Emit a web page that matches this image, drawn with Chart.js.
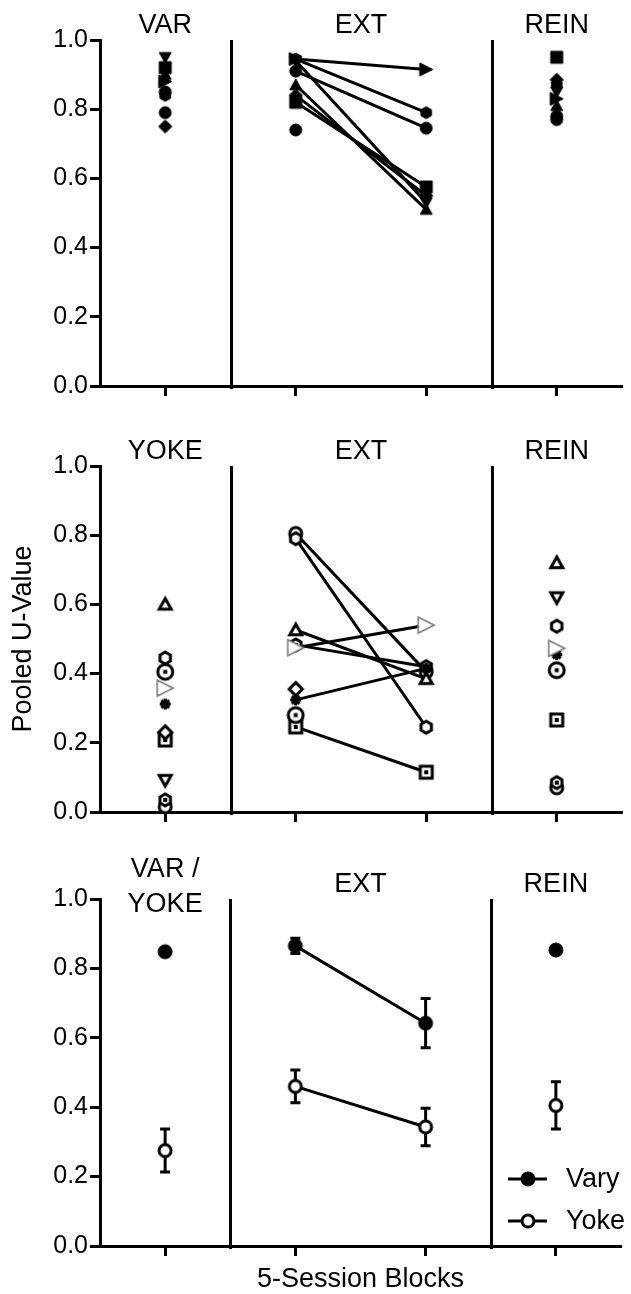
<!DOCTYPE html>
<html>
<head>
<meta charset="utf-8">
<script src="https://cdn.jsdelivr.net/npm/chart.js@4.4.0/dist/chart.umd.min.js"></script>
<style>
  html, body { margin: 0; padding: 0; background: #fff; }
  #wrap { position: relative; width: 631px; height: 1294px; }
  canvas { position: absolute; left: 0; }
</style>
</head>
<body>
<div id="wrap">
  <canvas id="c1" width="631" height="426" style="top:0px"></canvas>
  <canvas id="c2" width="631" height="426" style="top:426px"></canvas>
  <canvas id="c3" width="631" height="442" style="top:852px"></canvas>
</div>
<script>
// blocks on the x axis: baseline, EXT block 1, EXT block 2, REIN
const blockX = [1, 2, 3, 4];
const yTicks = [0, 0.2, 0.4, 0.6, 0.8, 1.0];
const panel1Titles = ['VAR', 'EXT', 'REIN'];
const panel2Titles = ['YOKE', 'EXT', 'REIN'];
const panel3Titles = ['VAR /\nYOKE', 'EXT', 'REIN'];
const legendNames = ['Vary', 'Yoke'];
const yAxisTitle = 'Pooled U-Value';
const xAxisTitle = '5-Session Blocks';

// top panel: individual Vary subjects
const varyShapes = ['triRight', 'hexagon', 'circle', 'triUp', 'square', 'diamond', 'triDown', 'circle'];
const varyVAR  = [0.88, 0.84, 0.79, 0.90, 0.92, 0.75, 0.95, 0.85];
const varyEXT1 = [0.945, 0.945, 0.91, 0.87, 0.82, 0.84, 0.94, 0.74];
const varyEXT2 = [0.915, 0.79, 0.745, 0.51, 0.575, 0.55, 0.53, null];
const varyREIN = [0.83, 0.87, 0.77, 0.81, 0.95, 0.885, 0.85, 0.78];

// middle panel: individual Yoke subjects
const yokeShapes = ['triUp', 'hexagon', 'circleDotBig', 'triRightGray', 'star', 'diamond', 'squareDot', 'triDown', 'hexagonDot', 'circle'];
const yokeYOKE = [0.60, 0.445, 0.405, 0.358, 0.312, 0.23, 0.208, 0.092, 0.035, 0.015];
const yokeEXT1 = [0.526, 0.79, 0.28, 0.475, 0.324, 0.355, 0.246, null, 0.483, 0.805];
const yokeEXT2 = [0.385, 0.245, null, 0.54, 0.415, null, 0.115, null, 0.42, 0.405];
const yokeREIN = [0.72, 0.537, 0.41, 0.473, 0.455, null, 0.266, 0.62, 0.085, 0.07];

// bottom panel: group means and SEM
const meanVary = [0.848, 0.865, 0.642, 0.853];
const semVary  = [0, 0.022, 0.071, 0];
const meanYoke = [0.275, 0.46, 0.343, 0.405];
const semYoke  = [0.062, 0.047, 0.054, 0.068];

const FONT = "'Liberation Sans', Arial, sans-serif";

// custom marker glyphs drawn onto small canvases
function marker(shape, size, filled, stroke, lw) {
  const pad = Math.ceil(lw) + 2;
  const c = document.createElement('canvas');
  c.width = c.height = Math.ceil(size) + pad * 2;
  const g = c.getContext('2d');
  const m = c.width / 2, r = size / 2;
  g.lineWidth = lw;
  g.strokeStyle = stroke;
  g.fillStyle = filled ? stroke : '#fff';
  g.lineJoin = 'miter';
  g.beginPath();
  const base = shape.replace('Dot', '').replace('Big', '').replace('Gray', '');
  if (base === 'circle') {
    g.arc(m, m, r, 0, Math.PI * 2);
  } else if (base === 'square') {
    g.rect(m - r, m - r, size, size);
  } else if (base === 'diamond') {
    g.moveTo(m, m - r * 1.1); g.lineTo(m + r * 1.1, m); g.lineTo(m, m + r * 1.1); g.lineTo(m - r * 1.1, m);
  } else if (base === 'triUp') {
    g.moveTo(m, m - r); g.lineTo(m + r, m + r * 0.8); g.lineTo(m - r, m + r * 0.8);
  } else if (base === 'triDown') {
    g.moveTo(m, m + r); g.lineTo(m + r, m - r * 0.8); g.lineTo(m - r, m - r * 0.8);
  } else if (base === 'triRight') {
    g.moveTo(m + r, m); g.lineTo(m - r, m - r); g.lineTo(m - r, m + r);
  } else if (base === 'hexagon') {
    for (let k = 0; k < 6; k++) {
      const a = Math.PI / 2 + k * Math.PI / 3;
      const px = m + r * Math.cos(a), py = m - r * Math.sin(a);
      k ? g.lineTo(px, py) : g.moveTo(px, py);
    }
  } else if (base === 'star') {
    g.lineWidth = 3;
    for (let k = 0; k < 4; k++) {
      const a = k * Math.PI / 4;
      g.moveTo(m - r * Math.cos(a), m - r * Math.sin(a));
      g.lineTo(m + r * Math.cos(a), m + r * Math.sin(a));
    }
    g.stroke();
    return c;
  }
  g.closePath();
  g.fill();
  g.stroke();
  if (shape.includes('Dot')) {
    g.fillStyle = stroke;
    g.fillRect(m - 2, m - 2, 4, 4);
  }
  return c;
}

function varyMarker(shape) {
  return marker(shape, shape === 'triRight' ? 13 : 12, true, '#000', 1);
}
function yokeMarker(shape) {
  if (shape === 'triRightGray') return marker('triRight', 16, false, '#777', 1.5);
  if (shape === 'circleDotBig') return marker('circleDot', 15, false, '#000', 3);
  if (shape === 'star') return marker('star', 11, true, '#000', 3);
  return marker(shape, 12, false, '#000', 3);
}

// only the EXT1 -> EXT2 segment is joined
const extSegment = {
  borderColor: ctx => (ctx.p0DataIndex === 1 ? '#000' : 'rgba(0,0,0,0)')
};

function subjectSets(cols, shapes, makeMarker) {
  return shapes.map((shape, i) => ({
    type: 'line',
    data: blockX.map((x, b) => ({ x: x, y: cols[b][i] })),
    borderColor: '#000',
    borderWidth: 3,
    pointStyle: makeMarker(shape),
    pointRadius: 6,
    segment: extSegment,
    clip: false,
    spanGaps: false
  }));
}

// decorations: panel titles, dividers, axis titles, error bars, legend
const decoPlugin = {
  id: 'deco',
  beforeDatasetsDraw(chart, args, opts) {
    const { ctx, chartArea: a, scales: { x, y } } = chart;
    ctx.save();
    ctx.strokeStyle = '#000';
    ctx.lineWidth = 3;
    [1.5, 3.5].forEach(v => {
      const px = Math.round(x.getPixelForValue(v)) + 0.5;
      ctx.beginPath(); ctx.moveTo(px, a.top); ctx.lineTo(px, a.bottom + 3); ctx.stroke();
    });
    chart.data.datasets.forEach(ds => {
      if (!ds.errorBars) return;
      ds.data.forEach((p, j) => {
        const e = ds.errorBars[j];
        if (!e) return;
        const px = x.getPixelForValue(p.x);
        const y0 = y.getPixelForValue(p.y - e), y1 = y.getPixelForValue(p.y + e);
        ctx.beginPath();
        ctx.moveTo(px, y0); ctx.lineTo(px, y1);
        ctx.moveTo(px - 5, y0); ctx.lineTo(px + 5, y0);
        ctx.moveTo(px - 5, y1); ctx.lineTo(px + 5, y1);
        ctx.stroke();
      });
    });
    ctx.restore();
  },
  afterDraw(chart, args, opts) {
    const { ctx, chartArea: a, scales: { x } } = chart;
    ctx.save();
    ctx.fillStyle = '#000';
    ctx.font = '27px ' + FONT;
    ctx.textAlign = 'center';
    ctx.textBaseline = 'middle';
    const cx = [x.getPixelForValue(1), x.getPixelForValue(2.5), x.getPixelForValue(4)];
    opts.titles.forEach((t, i) => {
      const lines = t.split('\n');
      if (lines.length === 1) {
        ctx.fillText(t, cx[i], a.top - 14);
      } else {
        ctx.fillText(lines[0], cx[i], a.top - 29);
        ctx.fillText(lines[1], cx[i], a.top + 6);
      }
    });
    if (opts.yTitle) {
      ctx.save();
      ctx.translate(24, (a.top + a.bottom) / 2);
      ctx.rotate(-Math.PI / 2);
      ctx.fillText(yAxisTitle, 0, 0);
      ctx.restore();
    }
    if (opts.xTitle) {
      ctx.fillText(xAxisTitle, (a.left + a.right) / 2, a.bottom + 34);
    }
    if (opts.legend) {
      const rows = [a.bottom - 67, a.bottom - 25];
      const mk = [marker('circle', 14, true, '#000', 1), marker('circle', 12, false, '#000', 3)];
      ctx.textAlign = 'left';
      rows.forEach((ly, i) => {
        ctx.lineWidth = 3;
        ctx.strokeStyle = '#000';
        ctx.beginPath(); ctx.moveTo(508, ly); ctx.lineTo(547, ly); ctx.stroke();
        ctx.drawImage(mk[i], 528 - mk[i].width / 2, ly - mk[i].height / 2);
        ctx.fillText(legendNames[i], 566, ly + 1);
      });
    }
    ctx.restore();
  }
};

function makeOptions(padTop, xHeight, deco) {
  return {
    responsive: false,
    animation: false,
    layout: { padding: { top: padTop, right: 8, left: 0, bottom: 0 } },
    plugins: { legend: { display: false }, tooltip: { enabled: false }, deco: deco },
    scales: {
      x: {
        type: 'linear', min: 0.5, max: 4.5,
        afterBuildTicks: s => { s.ticks = blockX.map(v => ({ value: v })); },
        afterFit: s => { s.height = xHeight; },
        ticks: { display: false },
        grid: { drawOnChartArea: false, drawTicks: true, tickLength: 10, tickWidth: 3, tickColor: '#000' },
        border: { display: true, width: 3, color: '#000' }
      },
      y: {
        type: 'linear', min: 0, max: 1,
        afterBuildTicks: s => { s.ticks = yTicks.map(v => ({ value: v })); },
        afterFit: s => { s.width = 100; },
        ticks: { font: { family: FONT, size: 25 }, color: '#000', padding: 2, callback: v => v.toFixed(1) },
        grid: { drawOnChartArea: false, drawTicks: true, tickLength: 10, tickWidth: 3, tickColor: '#000' },
        border: { display: true, width: 3, color: '#000' }
      }
    }
  };
}

new Chart(document.getElementById('c1'), {
  type: 'line',
  data: { datasets: subjectSets([varyVAR, varyEXT1, varyEXT2, varyREIN], varyShapes, varyMarker) },
  options: makeOptions(40, 40, { titles: panel1Titles }),
  plugins: [decoPlugin]
});

new Chart(document.getElementById('c2'), {
  type: 'line',
  data: { datasets: subjectSets([yokeYOKE, yokeEXT1, yokeEXT2, yokeREIN], yokeShapes, yokeMarker) },
  options: makeOptions(40, 40, { titles: panel2Titles, yTitle: true }),
  plugins: [decoPlugin]
});

new Chart(document.getElementById('c3'), {
  type: 'line',
  data: {
    datasets: [
      {
        label: legendNames[0],
        data: blockX.map((x, i) => ({ x: x, y: meanVary[i] })),
        errorBars: semVary,
        borderColor: '#000', borderWidth: 3,
        pointStyle: marker('circle', 14, true, '#000', 1), pointRadius: 7,
        segment: extSegment, clip: false
      },
      {
        label: legendNames[1],
        data: blockX.map((x, i) => ({ x: x, y: meanYoke[i] })),
        errorBars: semYoke,
        borderColor: '#000', borderWidth: 3,
        pointStyle: marker('circle', 12, false, '#000', 3), pointRadius: 7,
        segment: extSegment, clip: false
      }
    ]
  },
  options: makeOptions(47, 48, { titles: panel3Titles, xTitle: true, legend: true }),
  plugins: [decoPlugin]
});
</script>
</body>
</html>
